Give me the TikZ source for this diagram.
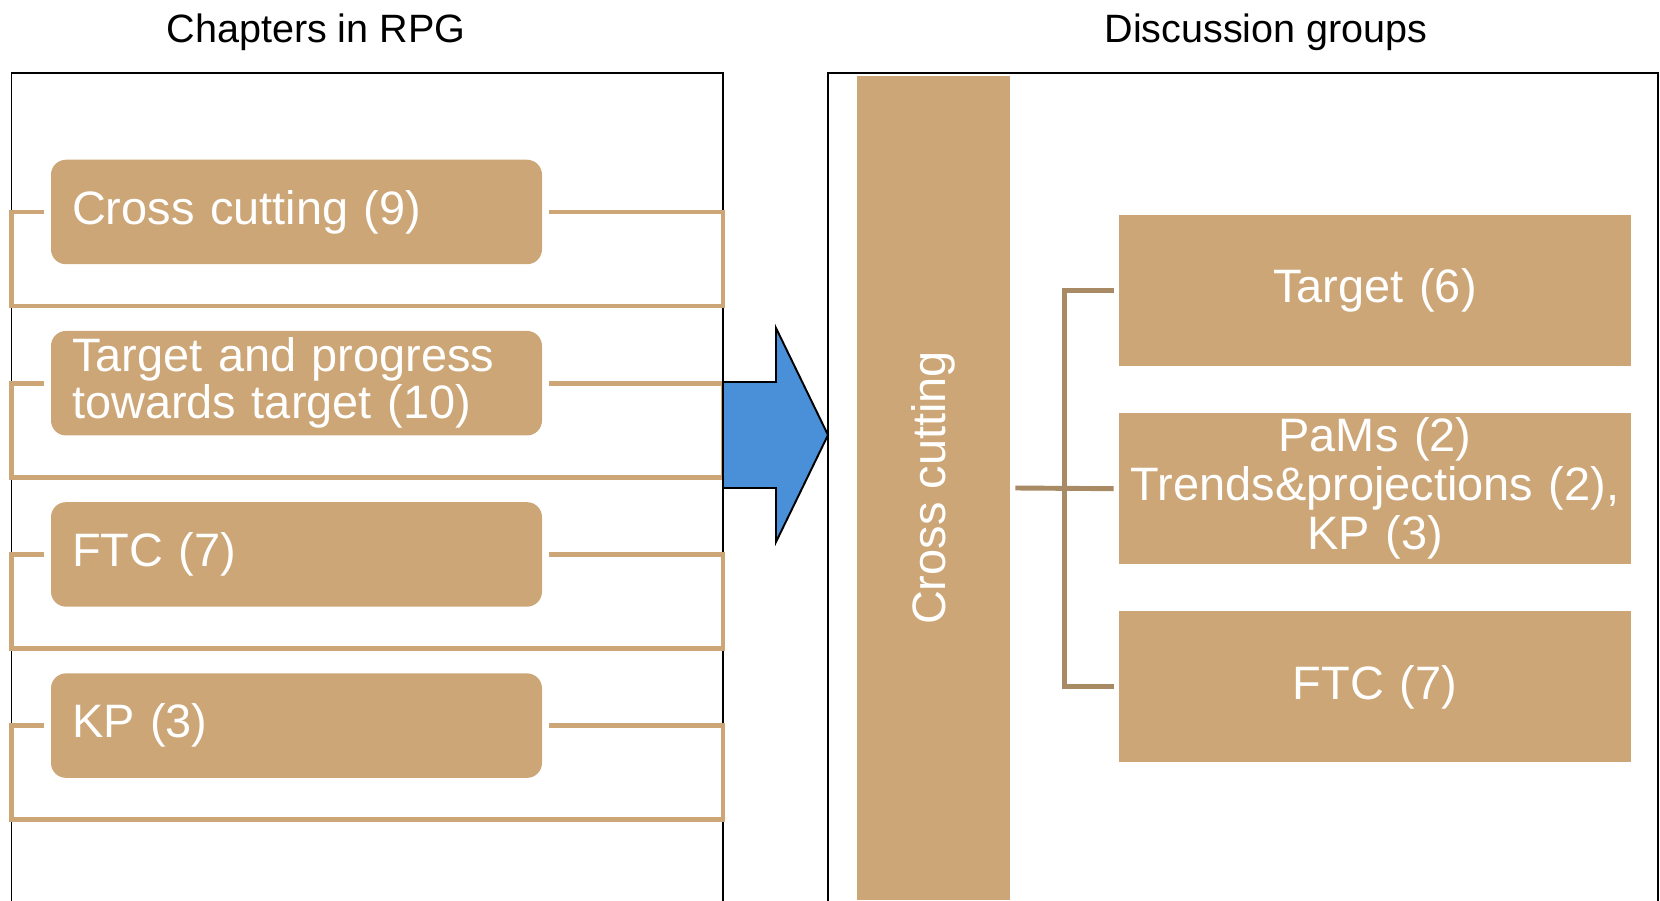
\documentclass[tikz,border=0pt]{standalone}
\usepackage{fontspec}
\setmainfont{Liberation Sans}
\usepackage{graphicx}
\usepackage{xcolor}
\usetikzlibrary{positioning,calc}
\definecolor{tan}{RGB}{204,166,118}
\definecolor{darktan}{RGB}{168,138,100}
\definecolor{arrowblue}{RGB}{74,144,217}

\tikzset{
    panel/.style={draw=black, line width=0.85pt, inner sep=0pt, outer sep=0pt},
    heading/.style={anchor=base, font=\fontsize{22.5}{27}\selectfont},
    chapter/.style={fill=tan, rounded corners=0.3cm, text=white, text width=8.98cm, align=left,
        inner xsep=0.42cm, inner ysep=0.05cm, minimum height=2.09cm, font=\fontsize{26.7}{26.7}\selectfont},
    group/.style={fill=tan, text=white, text width=10cm, align=center, inner xsep=0.12cm,
        inner ysep=0.05cm, minimum height=3.02cm, font=\fontsize{26.7}{27.8}\selectfont},
    crossbar/.style={fill=tan, text=white, inner sep=0pt, minimum width=3.06cm, minimum height=16.48cm,
        font=\fontsize{26.7}{26.7}\selectfont},
    bracket/.style={draw=tan, line width=2.8pt},
    tree/.style={draw=darktan, line width=2.8pt},
    bigarrow/.style={draw=black, fill=arrowblue, line width=1.1pt, line join=miter},
}

\begin{document}
\begin{tikzpicture}[node distance=1.32cm]
    \useasboundingbox (0,0) rectangle (33.2,18);
    \node[panel, anchor=north west, minimum width=14.23cm, minimum height=17.2cm] (chap) at (0.23,16.54) {};
    \node[panel, anchor=north west, minimum width=16.6cm, minimum height=17.2cm] (disc) at (16.56,16.54) {};
    \node[heading] (chaptitle) at (6.32,17.14) {Chapters in RPG};
    \node[heading] (disctitle) at (25.32,17.14) {Discussion groups};

    % chapters in RPG
    \node[chapter] (cc) at (5.93,13.76) {Cross cutting (9)};
    \node[chapter, below=of cc] (tp) {Target and progress\\towards target (10)};
    \node[chapter, below=of tp] (ftc) {FTC (7)};
    \node[chapter, below=of ftc] (kp) {KP (3)};
    \foreach \b in {cc,tp,ftc,kp}
        \draw[bracket] ([xshift=-1.3mm]\b.west) -- (chap.west |- \b.west) -- ++(0,-1.88)
            -| (chap.east |- \b.east) -- ([xshift=1.3mm]\b.east);

    \coordinate (tip) at (16.56,9.3);
    \draw[bigarrow] (tip) -- ++(-1.04,2.14) -- ++(0,-1.08) -- (chap.east |- 0,10.36)
        -- (chap.east |- 0,8.24) -- (15.52,8.24) -- ++(0,-1.08) -- cycle;

    % discussion groups
    \node[crossbar] (cross) at (18.67,8.24) {\rotatebox{90}{Cross cutting}};
    \node[group] (target) at (27.5,12.19) {Target (6)};
    \node[group, below=0.93cm of target] (pams) {PaMs (2)\\Trends\&projections (2),\\KP (3)};
    \node[group, below=0.93cm of pams] (ftcgroup) {FTC (7)};

    \coordinate (hub) at ($(cross.east)!0.5!(pams.west)$);
    \draw[tree] ([xshift=1mm]cross.east) -- ([xshift=-1mm]pams.west);
    \draw[tree] ([xshift=-1mm]target.west) -| (hub) |- ([xshift=-1mm]ftcgroup.west);
\end{tikzpicture}
\end{document}
